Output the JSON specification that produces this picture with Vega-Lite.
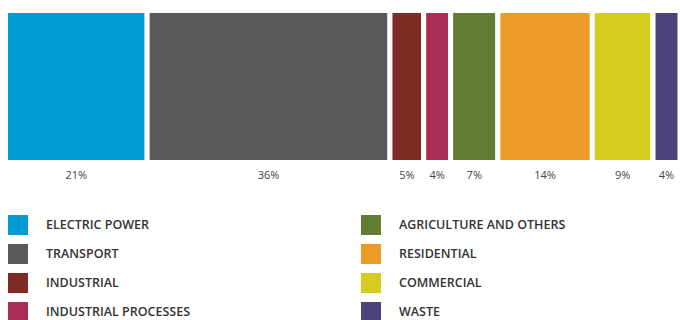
{
  "$schema": "https://vega.github.io/schema/vega-lite/v6.json",
  "width": 674.5,
  "height": 152,
  "autosize": {"type": "none"},
  "padding": {"left": 5.5, "top": 10.5, "right": 0, "bottom": 157.5},
  "background": "white",
  "config": {"view": {"stroke": null}, "font": "Open Sans"},
  "data": {
    "values": [
      {"sector": "ELECTRIC POWER", "share": 21, "label": "21%", "order": 1},
      {"sector": "TRANSPORT", "share": 36, "label": "36%", "order": 2},
      {"sector": "INDUSTRIAL", "share": 5, "label": "5%", "order": 3},
      {"sector": "INDUSTRIAL PROCESSES", "share": 4, "label": "4%", "order": 4},
      {"sector": "AGRICULTURE AND OTHERS", "share": 7, "label": "7%", "order": 5},
      {"sector": "RESIDENTIAL", "share": 14, "label": "14%", "order": 6},
      {"sector": "COMMERCIAL", "share": 9, "label": "9%", "order": 7},
      {"sector": "WASTE", "share": 4, "label": "4%", "order": 8}
    ]
  },
  "transform": [
    {"stack": "share", "groupby": [], "sort": [{"field": "order", "order": "ascending"}], "as": ["x0", "x1"]},
    {"calculate": "(datum.x0 + datum.x1) / 2", "as": "xm"}
  ],
  "layer": [
    {
      "mark": {"type": "bar", "stroke": "white", "strokeWidth": 5, "strokeOpacity": 1},
      "encoding": {
        "x": {"field": "x0", "type": "quantitative", "scale": {"domain": [0, 100], "nice": false, "zero": true}, "axis": null},
        "x2": {"field": "x1"},
        "y": {"value": 0},
        "y2": {"value": "height"},
        "color": {
          "field": "sector",
          "type": "nominal",
          "scale": {
            "domain": ["ELECTRIC POWER", "TRANSPORT", "INDUSTRIAL", "INDUSTRIAL PROCESSES", "AGRICULTURE AND OTHERS", "RESIDENTIAL", "COMMERCIAL", "WASTE"],
            "range": ["#009BD2", "#58595B", "#7D2C25", "#AA2D55", "#637C34", "#EB9B27", "#D5CC1F", "#4C4179"]
          },
          "legend": {
            "title": null,
            "orient": "none",
            "legendX": 2.5,
            "legendY": 204.5,
            "columns": 2,
            "columnPadding": 170,
            "rowPadding": 9,
            "symbolType": "square",
            "symbolSize": 400,
            "symbolStrokeWidth": 0,
            "symbolOpacity": 1,
            "labelOffset": 18,
            "labelFont": "Open Sans",
            "labelFontSize": 12.5,
            "labelFontWeight": 600,
            "labelColor": "#333333",
            "labelLimit": 400
          }
        }
      }
    },
    {
      "mark": {"type": "text", "baseline": "middle", "align": "center", "dy": 13.5, "fontSize": 11, "font": "Open Sans", "color": "#444444"},
      "encoding": {
        "x": {"field": "xm", "type": "quantitative"},
        "y": {"value": "height"},
        "text": {"field": "label"}
      }
    }
  ]
}
